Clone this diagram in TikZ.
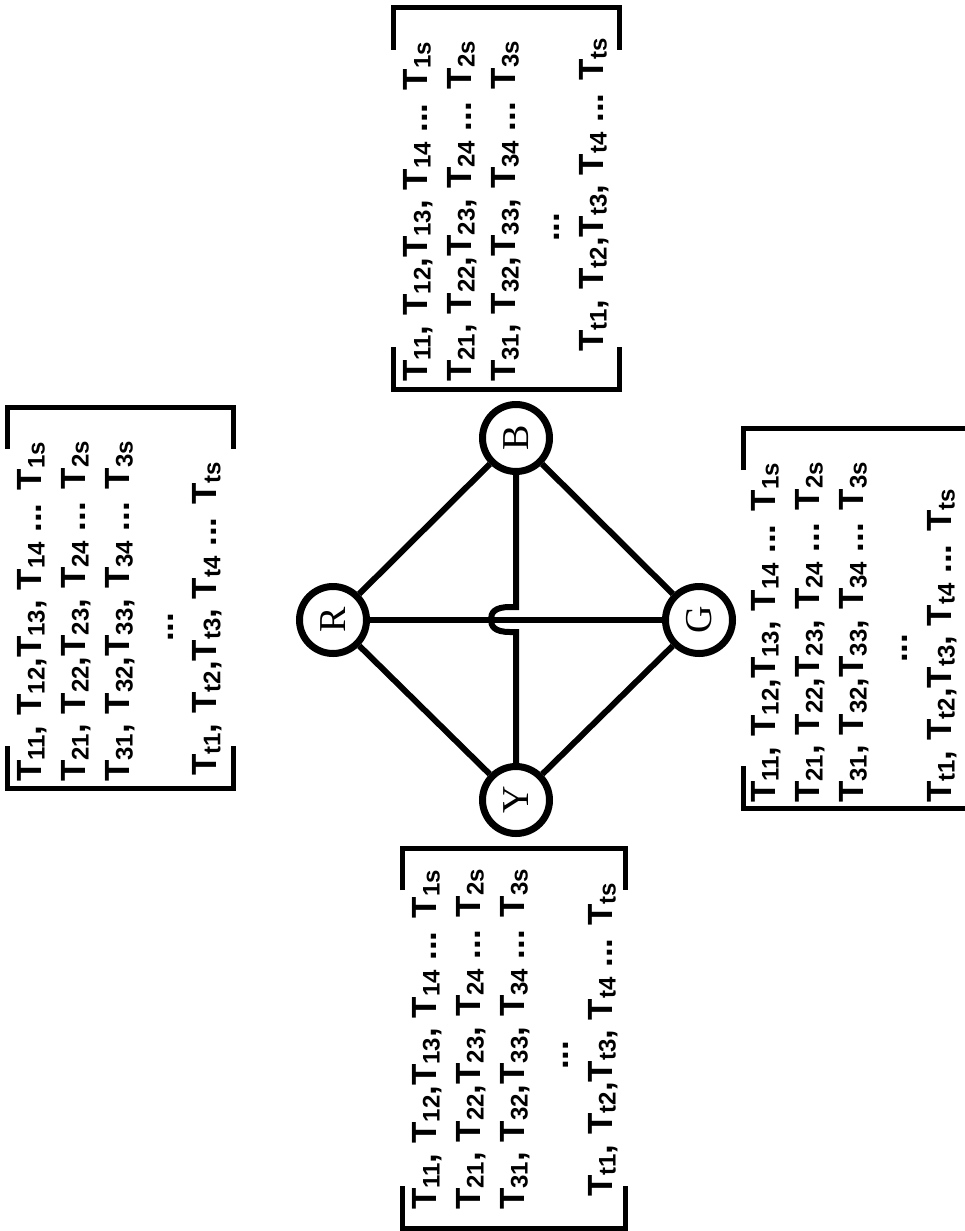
\documentclass[tikz,border=0pt]{standalone}
\usepackage{fontspec}
\setmainfont{Liberation Sans}
\newfontfamily\nodeserif{Liberation Serif}
\newcommand\Tx[1]{T\raisebox{-3.5pt}{\fontsize{24}{24}\selectfont #1}}
\newcommand\matbrackets[5]{%
  \draw[brk] (#1,#3+#5) -- (#1,#3) -- (#2,#3) -- (#2,#3+#5);
  \draw[brk] (#1,#4-#5) -- (#1,#4) -- (#2,#4) -- (#2,#4-#5);}
\newcommand\mattext[2]{%
  \begin{tabular}[t]{@{}l@{}}
  \Tx{11}, \Tx{12},\Tx{13}, \Tx{14} ... \Tx{1s}\\
  \Tx{21}, \Tx{22},\Tx{23}, \Tx{24} ... \Tx{2s}\\
  \Tx{31}, \Tx{32},\Tx{33}, \Tx{34} ... \Tx{3s}\\
  \hspace*{#1}...\\
  \hspace*{#2}\Tx{t1}, \Tx{t2},\Tx{t3}, \Tx{t4} ... \Tx{ts}
  \end{tabular}}
\tikzset{
  vert/.style={circle, draw, line width=7pt, minimum size=67pt, inner sep=0pt,
    rotate=90, font=\nodeserif\fontsize{38}{38}\selectfont},
  edge/.style={line width=6pt},
  brk/.style={line width=5pt},
  mtext/.style={rotate=90, inner sep=0pt, anchor=base west,
    font=\fontsize{35}{44}\selectfont\bfseries}
}
\begin{document}
\begin{tikzpicture}[x=1pt,y=-1pt]
\useasboundingbox (0,0) rectangle (964,1231);
% graph
\node[vert] (R) at (333,620) {R};
\node[vert] (B) at (516,438) {B};
\node[vert] (G) at (699,620) {G};
\node[vert] (Y) at (516,800) {Y};
\coordinate (h1) at (516,607);
\coordinate (h2) at (510,607);
\coordinate (h3) at (510,632);
\coordinate (h4) at (516,632);
\draw[edge] (R) -- (B);
\draw[edge] (B) -- (G);
\draw[edge] (G) -- (Y);
\draw[edge] (Y) -- (R);
\draw[edge] (R) -- (G);
\draw[edge] (B) -- (h1) -- (h2) .. controls (494,607) and (491,613) .. (491,619.5)
  .. controls (491,626) and (494,632) .. (h3) -- (h4) -- (Y);
% matrices
\matbrackets{393}{619}{8}{389}{42}
\node[mtext] (tB) at (427,382) {\mattext{140pt}{30pt}};
\matbrackets{7}{233}{407}{788}{42}
\node[mtext] (tR) at (41,782) {\mattext{140pt}{6pt}};
\matbrackets{402}{625}{848}{1228}{42}
\node[mtext] (tY) at (436,1210) {\mattext{140pt}{13pt}};
\matbrackets{743}{969}{428}{808}{42}
\node[mtext] (tG) at (775,803) {\mattext{140pt}{0pt}};
\end{tikzpicture}
\end{document}
